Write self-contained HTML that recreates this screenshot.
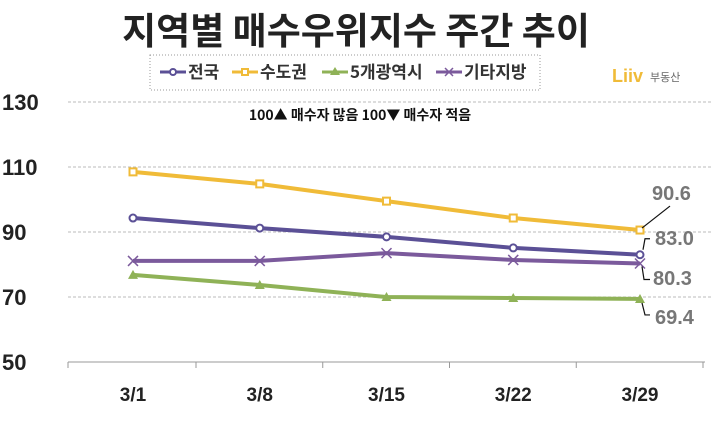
<!DOCTYPE html>
<html><head><meta charset="utf-8"><style>
body{margin:0;background:#fff;width:713px;height:423px;overflow:hidden;font-family:"Liberation Sans","Noto Sans CJK KR",sans-serif}
</style></head><body>
<svg width="713" height="423" viewBox="0 0 713 423" xmlns="http://www.w3.org/2000/svg" id="chart">
<text x="356" y="44" text-anchor="middle" font-size="37" font-weight="bold" fill="#222" font-family="Noto Sans CJK KR, sans-serif">지역별 매수우위지수 주간 추이</text>
<rect x="150" y="55" width="390" height="35" fill="none" stroke="#999" stroke-dasharray="1,2"/>
<g font-family="Noto Sans CJK KR, sans-serif" font-size="17" font-weight="bold" fill="#333">
<g><line x1="160" y1="72" x2="186" y2="72" stroke="#5b5096" stroke-width="3"/><circle cx="173" cy="72" r="3" fill="#fff" stroke="#5b5096" stroke-width="2"/><text x="188" y="78">전국</text></g>
<g><line x1="232" y1="72" x2="258" y2="72" stroke="#f0bb38" stroke-width="3"/><rect x="242" y="69" width="6" height="6" fill="#fff" stroke="#f0bb38" stroke-width="2"/><text x="260" y="78">수도권</text></g>
<g><line x1="322" y1="72" x2="348" y2="72" stroke="#8fb257" stroke-width="3"/><path d="M335 67 L340 75 L330 75Z" fill="#8fb257"/><text x="350" y="78">5개광역시</text></g>
<g><line x1="436" y1="72" x2="462" y2="72" stroke="#7b5a9c" stroke-width="3"/><path d="M445 68 L453 76 M453 68 L445 76" stroke="#7b5a9c" stroke-width="1.5"/><text x="464" y="78">기타지방</text></g>
</g>
<g><text x="612" y="82" font-size="18" font-weight="bold" fill="#f0bb38">Liiv</text><text x="650" y="81" font-size="11" fill="#666" font-family="Noto Sans CJK KR, sans-serif">부동산</text></g>
<text x="360" y="120" text-anchor="middle" font-size="14" font-weight="bold" fill="#111" font-family="Noto Sans CJK KR, sans-serif">100▲ 매수자 많음 100▼ 매수자 적음</text>
<g id="grid"></g><g id="series"></g>
</svg>
<script>
const categories=["3/1","3/8","3/15","3/22","3/29"];
const yTicks=[50,70,90,110,130];
const national=[94.3,91.2,88.5,85.1,83.0];
const capital=[108.5,104.8,99.5,94.3,90.6];
const metro5=[76.8,73.7,70.0,69.7,69.4];
const other=[81.1,81.1,83.5,81.4,80.3];
const NS="http://www.w3.org/2000/svg";
function x(i){return 133+i*126.75;}
function y(v){return 362-(v-50)*3.25;}
function mk(t,a,p){const e=document.createElementNS(NS,t);for(const k in a)e.setAttribute(k,a[k]);(p||document.getElementById('series')).appendChild(e);return e;}
const g=document.getElementById('grid');
yTicks.forEach(v=>{
 if(v>50){const l=mk('line',{x1:68,x2:713,y1:y(v),y2:y(v),stroke:'#bbb','stroke-dasharray':'3,2'},g);
 
 }
 const t=mk('text',{x:2,y:y(v)+8,'font-size':22,'font-weight':'bold',fill:'#222'},g);t.textContent=v;
 
 
});
const ax=mk('line',{x1:68,x2:705,y1:362,y2:362,stroke:'#999'},g);


const va=mk('line',{x1:68,x2:68,y1:362,y2:368,stroke:'#999'},g);
categories.forEach((c,i)=>{
 const tk=mk('line',{x1:x(i)+63,x2:x(i)+63,y1:362,y2:368,stroke:'#999'},g);
 const t=mk('text',{x:x(i),y:401,'text-anchor':'middle','font-size':19,'font-weight':'bold',fill:'#222'},g);t.textContent=c;
 
 
});
function series(d,col,name,marker){
 const pl=mk('polyline',{points:d.map((v,i)=>x(i)+','+y(v)).join(' '),fill:'none',stroke:col,'stroke-width':4});
 
 
 d.forEach((v,i)=>{let m;
  if(marker==='c')m=mk('circle',{cx:x(i),cy:y(v),r:3.5,fill:'#fff',stroke:col,'stroke-width':2});
  else if(marker==='s')m=mk('rect',{x:x(i)-3.5,y:y(v)-3.5,width:7,height:7,fill:'#fff',stroke:col,'stroke-width':2});
  else if(marker==='t')m=mk('path',{d:`M${x(i)} ${y(v)-5}L${x(i)+5} ${y(v)+4}L${x(i)-5} ${y(v)+4}Z`,fill:col});
  else m=mk('path',{d:`M${x(i)-5} ${y(v)-5}L${x(i)+5} ${y(v)+5}M${x(i)+5} ${y(v)-5}L${x(i)-5} ${y(v)+5}`,stroke:col,'stroke-width':1.5});
  
  
 });
}
series(other,'#7b5a9c','other','x');
series(metro5,'#8fb257','metro5','t');
series(national,'#5b5096','national','c');
series(capital,'#f0bb38','capital','s');
const L=categories.length-1,lx=x(L);
function lab(v,tx,ty,path,name){
 mk('path',{d:path,fill:'none',stroke:'#111','stroke-width':1.2});
 const t=mk('text',{x:tx,y:ty,'font-size':20,'font-weight':'bold',fill:'#777'});t.textContent=v.toFixed(1);
 
 
}
lab(capital[L],652,200,`M${lx+2} ${y(capital[L])-2}L${lx+30} ${y(capital[L])-24}`,'capital');
lab(national[L],655,245,`M${lx+3} ${y(national[L])-5}L${lx+5} ${y(national[L])-16}L${lx+10} ${y(national[L])-16}`,'national');
lab(other[L],653,285,`M${lx+2} ${y(other[L])+3}L${lx+4} ${y(other[L])+16}L${lx+10} ${y(other[L])+16}`,'other');
lab(metro5[L],655,324,`M${lx+2} ${y(metro5[L])+4}L${lx+5} ${y(metro5[L])+16}L${lx+10} ${y(metro5[L])+16}`,'metro5');
</script>
</body></html>
